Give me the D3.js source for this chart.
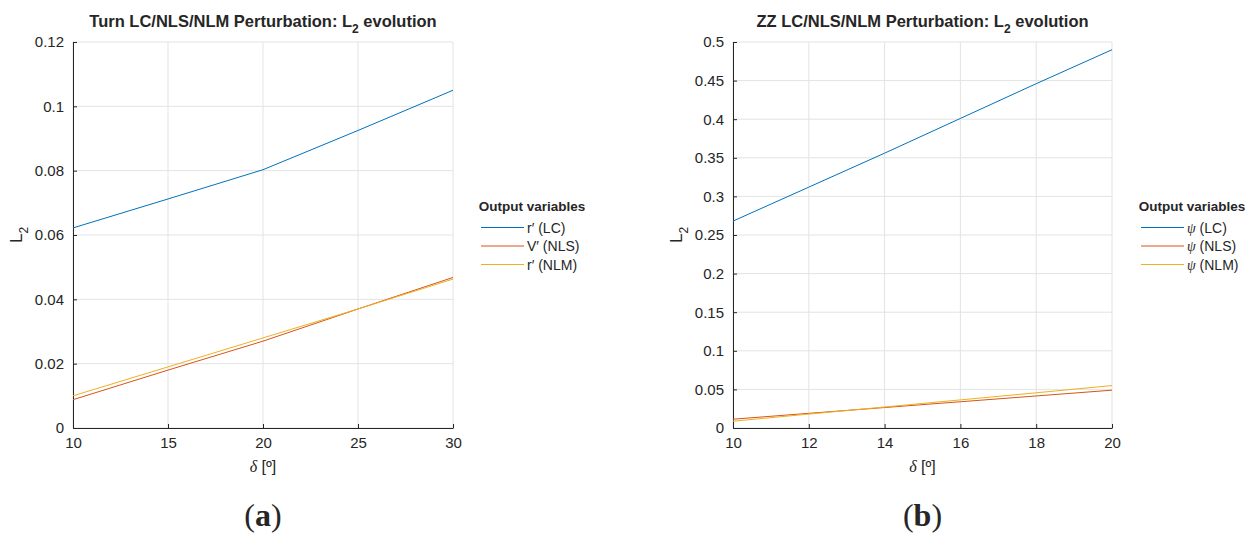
<!DOCTYPE html>
<html>
<head>
<meta charset="utf-8">
<script src="https://cdn.jsdelivr.net/npm/d3@7"></script>
<style>
  body { margin: 0; background: #fff; }
  text { font-family: "Liberation Sans", Arial, sans-serif; fill: #262626; }
</style>
</head>
<body>
<script>
// chart (a): Turn
var turnDelta = [10, 15, 20, 25, 30];
var turnLC  = [0.0622, 0.0712, 0.0803, 0.0925, 0.1050];
var turnNLS = [0.0088, 0.0180, 0.0270, 0.0370, 0.0468];
var turnNLM = [0.0100, 0.0190, 0.0280, 0.0370, 0.0463];
var turnXTicks = [10, 15, 20, 25, 30];
var turnYTicks = [0, 0.02, 0.04, 0.06, 0.08, 0.1, 0.12];
var turnLabels = ["r\u2032 (LC)", "V\u2032 (NLS)", "r\u2032 (NLM)"];

// chart (b): ZZ
var zzDelta = [10, 12, 14, 16, 18, 20];
var zzLC  = [0.268, 0.312, 0.356, 0.401, 0.446, 0.490];
var zzNLS = [0.0114, 0.0190, 0.0265, 0.0340, 0.0415, 0.0490];
var zzNLM = [0.0088, 0.0180, 0.0272, 0.0364, 0.0456, 0.0550];
var zzXTicks = [10, 12, 14, 16, 18, 20];
var zzYTicks = [0, 0.05, 0.1, 0.15, 0.2, 0.25, 0.3, 0.35, 0.4, 0.45, 0.5];
var zzLabels = ["(LC)", "(NLS)", "(NLM)"];

var colors = ["#0072BD", "#D95319", "#EDB120"];

var svg = d3.select("body").append("svg")
  .attr("width", 1249)
  .attr("height", 534);

function drawPanel(opt) {
  var x = d3.scaleLinear().domain(opt.xDomain).range([opt.left, opt.right]);
  var y = d3.scaleLinear().domain(opt.yDomain).range([opt.bottom, opt.top]);
  var g = svg.append("g");

  // grid
  g.selectAll(".vg").data(opt.xTicks).enter().append("line")
    .attr("x1", function(d){ return x(d); }).attr("x2", function(d){ return x(d); })
    .attr("y1", opt.top).attr("y2", opt.bottom)
    .attr("stroke", "#e3e3e3").attr("stroke-width", 1);
  g.selectAll(".hg").data(opt.yTicks).enter().append("line")
    .attr("x1", opt.left).attr("x2", opt.right)
    .attr("y1", function(d){ return y(d); }).attr("y2", function(d){ return y(d); })
    .attr("stroke", "#e3e3e3").attr("stroke-width", 1);

  // axes
  var xAxis = d3.axisBottom(x).tickValues(opt.xTicks).tickSizeInner(-4).tickSizeOuter(0)
    .tickPadding(9).tickFormat(d3.format("d"));
  var yAxis = d3.axisLeft(y).tickValues(opt.yTicks).tickSizeInner(-4).tickSizeOuter(0)
    .tickPadding(9).tickFormat(function(d){ return d === 0 ? "0" : String(+d.toFixed(3)); });

  var gx = g.append("g").attr("transform", "translate(0," + opt.bottom + ")").call(xAxis);
  var gy = g.append("g").attr("transform", "translate(" + opt.left + ",0)").call(yAxis);
  [gx, gy].forEach(function(a) {
    a.select(".domain").attr("stroke", "#262626");
    a.selectAll(".tick line").attr("stroke", "#262626");
    a.selectAll(".tick text").style("font-size", "15px").attr("fill", "#262626")
      .style("font-family", "Liberation Sans, Arial, sans-serif");
  });

  // lines
  var line = d3.line()
    .x(function(d){ return x(d[0]); })
    .y(function(d){ return y(d[1]); });
  opt.series.forEach(function(s, i) {
    g.append("path")
      .datum(opt.xs.map(function(v, j){ return [v, s[j]]; }))
      .attr("d", line)
      .attr("fill", "none")
      .attr("stroke", colors[i])
      .attr("stroke-width", 1);
  });

  // title
  var t = g.append("text")
    .attr("x", (opt.left + opt.right) / 2).attr("y", 27)
    .attr("text-anchor", "middle")
    .style("font-size", "16.5px").style("font-weight", "bold");
  t.append("tspan").text(opt.title + " L");
  t.append("tspan").attr("dy", 6).style("font-size", "12px").text("2");
  t.append("tspan").attr("dy", -6).text(" evolution");

  // y label
  var yl = g.append("text")
    .attr("transform", "translate(" + opt.yLabelX + "," + ((opt.top + opt.bottom) / 2) + ") rotate(-90)")
    .attr("text-anchor", "middle")
    .style("font-size", "17px");
  yl.append("tspan").text("L");
  yl.append("tspan").attr("dy", 6).style("font-size", "12px").text("2");

  // x label
  var xl = g.append("text")
    .attr("x", (opt.left + opt.right) / 2).attr("y", opt.bottom + 44)
    .attr("text-anchor", "middle")
    .style("font-size", "16px");
  xl.append("tspan").style("font-family", "Liberation Serif, serif").style("font-style", "italic").text("\u03b4");
  xl.append("tspan").text(" [\u00ba]");

  // legend
  var lg = g.append("g");
  lg.append("text")
    .attr("x", opt.legendX + 51).attr("y", 211)
    .attr("text-anchor", "middle")
    .style("font-size", "13.5px").style("font-weight", "bold")
    .text("Output variables");
  opt.labels.forEach(function(lab, i) {
    var yy = 227.5 + i * 18.5;
    lg.append("line")
      .attr("x1", opt.legendX).attr("x2", opt.legendX + 43)
      .attr("y1", yy).attr("y2", yy)
      .attr("stroke", colors[i]).attr("stroke-width", 1);
    var tx = lg.append("text")
      .attr("x", opt.legendX + 46).attr("y", yy + 5)
      .style("font-size", "14px");
    if (opt.psi) {
      tx.append("tspan").style("font-family", "Liberation Serif, serif").style("font-style", "italic").text("\u03c8");
      tx.append("tspan").text(" " + lab);
    } else {
      tx.text(lab);
    }
  });

  // caption
  var cap = svg.append("text")
    .attr("x", (opt.left + opt.right) / 2).attr("y", 526)
    .attr("text-anchor", "middle")
    .style("font-family", "Liberation Serif, 'DejaVu Serif', serif")
    .style("font-size", "32px").attr("fill", "#000");
  cap.append("tspan").text("(");
  cap.append("tspan").style("font-weight", "bold").text(opt.caption);
  cap.append("tspan").text(")");
}

drawPanel({
  left: 73, right: 453, top: 42, bottom: 428,
  xDomain: [10, 30], yDomain: [0, 0.12],
  xTicks: turnXTicks, yTicks: turnYTicks,
  xs: turnDelta, series: [turnLC, turnNLS, turnNLM],
  title: "Turn LC/NLS/NLM Perturbation:",
  labels: turnLabels, legendX: 481, yLabelX: 22,
  caption: "a"
});

drawPanel({
  left: 733, right: 1112, top: 42, bottom: 428,
  xDomain: [10, 20], yDomain: [0, 0.5],
  xTicks: zzXTicks, yTicks: zzYTicks,
  xs: zzDelta, series: [zzLC, zzNLS, zzNLM],
  title: "ZZ LC/NLS/NLM Perturbation:",
  labels: zzLabels, psi: true, legendX: 1141, yLabelX: 682,
  caption: "b"
});
</script>
</body>
</html>
